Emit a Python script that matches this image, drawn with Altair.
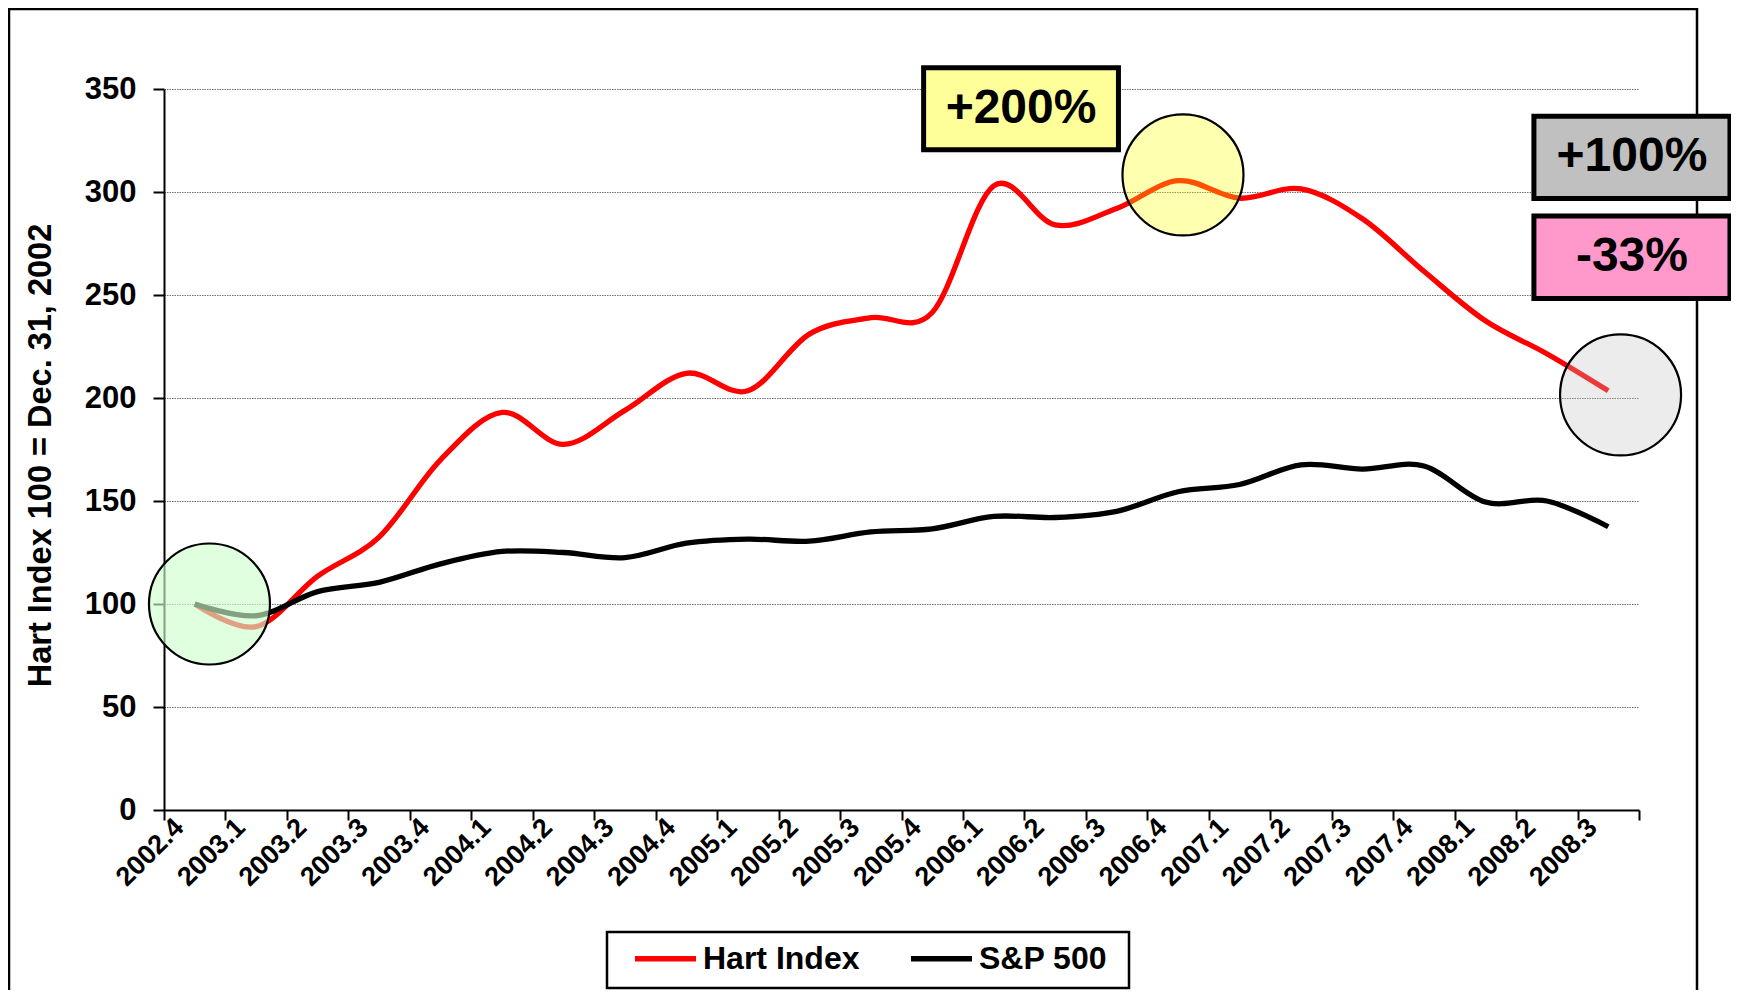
import json
import altair as alt
import pandas as pd

# ---------------- data ----------------
quarters = ["2002.4", "2003.1", "2003.2", "2003.3", "2003.4", "2004.1", "2004.2",
            "2004.3", "2004.4", "2005.1", "2005.2", "2005.3", "2005.4", "2006.1",
            "2006.2", "2006.3", "2006.4", "2007.1", "2007.2", "2007.3", "2007.4",
            "2008.1", "2008.2", "2008.3"]
hart_index = [100, 89, 113.5, 132.5, 170, 193, 177.5, 194, 212, 203.5, 231, 239,
              241.5, 303, 284, 292, 305.5, 297, 301.5, 287, 261.5, 237.5, 221.5, 203.5]
sp500 = [100, 94.3, 106, 110.5, 119.5, 125.5, 125, 122.5, 129.5, 131.5, 130.5, 135,
         136.5, 142.5, 142, 145, 154.5, 158, 167.5, 165.5, 167, 149.5, 150, 137.5]
series_names = ["Hart Index", "S&P 500"]
series_colors = ["#FF0000", "#000000"]

# highlight circles (quarter position, index value)
circle_pos = [0.24, 16.08, 23.2]
circle_val = [100, 308.3, 201.5]
circle_fill = ["#CCFFCC", "#FFFF00", "#C0C0C0"]
circle_alpha = [0.63, 0.31, 0.3]

# call-out boxes
callout_text = ["+200%", "+100%", "-33%"]
callout_fill = ["#FFFF99", "#C0C0C0", "#FF99CC"]
callout_x1 = [11.86, 21.79, 21.79]
callout_x2 = [15.03, 24.98, 24.98]
callout_y1 = [360.3, 336.8, 288.3]
callout_y2 = [320.5, 296.8, 248.3]

# ---------------- tables ----------------
rows = []
for name, vals in zip(series_names, [hart_index, sp500]):
    for i, (q, v) in enumerate(zip(quarters, vals)):
        rows.append({"idx": i, "quarter": q, "series": name, "value": v})
lines_df = pd.DataFrame(rows)

circles_df = pd.DataFrame({"idx": circle_pos, "value": circle_val,
                           "fill": circle_fill, "alpha": circle_alpha})

callouts_df = pd.DataFrame({"text": callout_text, "fill": callout_fill,
                            "x1": callout_x1, "x2": callout_x2,
                            "y1": callout_y1, "y2": callout_y2})
callouts_df["xm"] = (callouts_df["x1"] + callouts_df["x2"]) / 2
callouts_df["ym"] = (callouts_df["y1"] + callouts_df["y2"]) / 2

FONT = "Liberation Sans"
label_js = json.dumps(quarters)

x_scale = alt.Scale(domain=[-0.5, 23.5], nice=False, zero=False)
y_scale = alt.Scale(domain=[0, 350], nice=False, zero=True)

x_axis = alt.Axis(
    values=[k - 0.5 for k in range(25)],
    labelExpr=f"datum.value < 23 ? {label_js}[round(datum.value + 0.5)] : ''",
    labelAngle=-45, labelAlign="right", labelBaseline="middle",
    labelOffset=15, labelPadding=3, labelFlush=False, labelOverlap=False,
    labelFontSize=27, labelFontWeight="bold", labelColor="black", labelFont=FONT,
    tickSize=10, tickWidth=2, tickColor="black",
    domainColor="black", domainWidth=2, grid=False, title=None,
)
y_axis = alt.Axis(
    values=list(range(0, 351, 50)),
    grid=True, gridColor="#707070", gridDash=[1.5, 1], gridWidth=1,
    tickSize=11, tickWidth=2, tickColor="black",
    domainColor="black", domainWidth=2,
    labelFontSize=31, labelFontWeight="bold", labelColor="black", labelFont=FONT,
    labelPadding=17,
    title="Hart Index 100 = Dec. 31, 2002",
    titleFontSize=32.5, titleFontWeight="bold", titleColor="black", titleFont=FONT,
    titleAngle=-90, titleX=-114, titleY=366, titleAlign="center",
    titleBaseline="alphabetic",
)

frame = alt.Chart(alt.Data(values=[{}])).mark_rect(
    fill="transparent", stroke="black", strokeWidth=2.5
).encode(
    x=alt.value(-155), x2=alt.value(1533), y=alt.value(-80), y2=alt.value(950)
)

legend_frame = alt.Chart(alt.Data(values=[{}])).mark_rect(
    fill="white", stroke="black", strokeWidth=2.5
).encode(
    x=alt.value(443), x2=alt.value(965), y=alt.value(843), y2=alt.value(899)
)

lines = alt.Chart(lines_df).mark_line(
    interpolate="cardinal", strokeWidth=5.3
).encode(
    x=alt.X("idx:Q", scale=x_scale, axis=x_axis),
    y=alt.Y("value:Q", scale=y_scale, axis=y_axis),
    color=alt.Color(
        "series:N",
        scale=alt.Scale(domain=series_names, range=series_colors),
        legend=alt.Legend(
            orient="none", legendX=443, legendY=825, direction="horizontal",
            title=None, padding=11, symbolType="stroke", symbolSize=3721,
            symbolStrokeWidth=5.5, symbolOffset=14, labelOffset=4,
            columnPadding=34, labelFontSize=32, labelFontWeight="bold",
            labelColor="black", labelFont=FONT, labelLimit=400,
        ),
    ),
    order=alt.Order("idx:Q"),
)

circles = alt.Chart(circles_df).mark_point(
    shape="circle", filled=True, opacity=1, stroke="black", strokeWidth=2.2,
    strokeOpacity=1, size=14641
).encode(
    x=alt.X("idx:Q", scale=x_scale),
    y=alt.Y("value:Q", scale=y_scale),
    fill=alt.Fill("fill:N", scale=None),
    fillOpacity=alt.FillOpacity("alpha:Q", scale=None),
)

boxes = alt.Chart(callouts_df).mark_rect(stroke="black", strokeWidth=5).encode(
    x=alt.X("x1:Q", scale=x_scale), x2="x2:Q",
    y=alt.Y("y1:Q", scale=y_scale), y2="y2:Q",
    fill=alt.Fill("fill:N", scale=None),
)

texts = alt.Chart(callouts_df).mark_text(
    fontSize=48, fontWeight="bold", color="black", font=FONT,
    align="center", baseline="middle"
).encode(
    x=alt.X("xm:Q", scale=x_scale),
    y=alt.Y("ym:Q", scale=y_scale),
    text="text:N",
)

chart = alt.layer(frame, legend_frame, lines, circles, boxes, texts).properties(
    width=1475, height=721,
    autosize=alt.AutoSizeParams(type="none"),
    padding={"left": 156, "top": 81, "right": 92, "bottom": 180},
    background="white",
).configure(font=FONT).configure_view(stroke=None)

chart.save("out.html", embed_options={"renderer": "svg", "actions": False})
